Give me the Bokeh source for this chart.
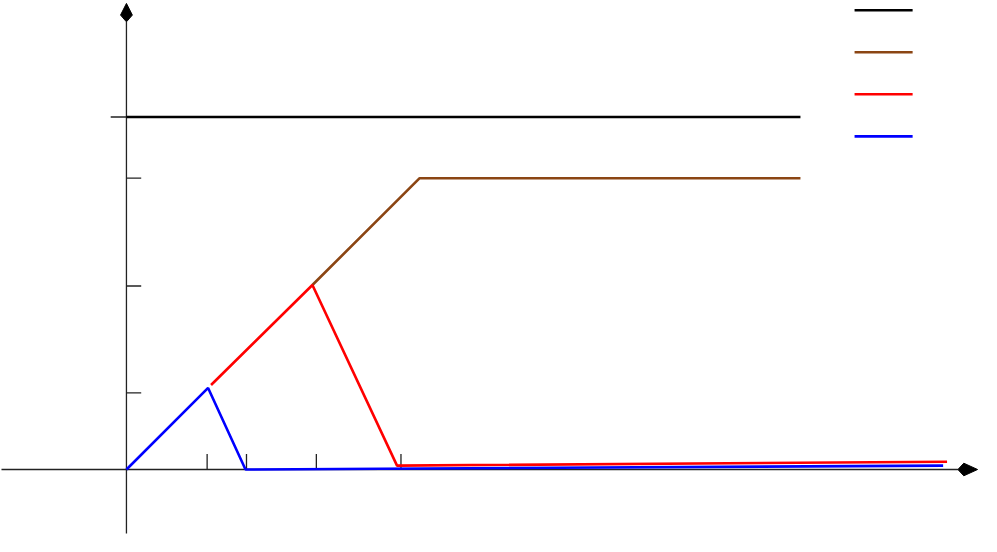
from bokeh.plotting import figure
from bokeh.embed import file_html
from bokeh.resources import INLINE
from bokeh.models import Range1d

# ---- data (origin of the axes = 0,0) ----
black_x = [0, 685]
black_y = [363, 363]

brown_x = [189, 298, 685]
brown_y = [190, 300, 300]

red_x = [86, 189, 275, 834]
red_y = [87, 190, 4, 8]

blue_x = [0, 83, 121, 830]
blue_y = [0, 84, 0, 4]

series_colors = ["#000000", "#8B4513", "#FF0000", "#0000FF"]

x_ticks = [82, 122, 193, 279]
y_ticks_right = [79, 189, 300]
y_ticks_left = [363]

x_axis_extent = [-127, 845]
y_axis_extent = [-66, 461]

# ---- figure ----
W, H = 981, 536
p = figure(width=W, height=H, output_backend="svg", toolbar_location=None,
           x_range=Range1d(-128, 869), y_range=Range1d(-69, 483),
           min_border=0, min_border_left=0, min_border_right=0,
           min_border_top=0, min_border_bottom=0)
p.axis.visible = False
p.grid.visible = False
p.outline_line_color = None
p.background_fill_color = "white"
p.border_fill_color = "white"

axis_color = "#222222"
tick_len = 16

# axes lines
p.line(x_axis_extent, [0, 0], line_color=axis_color, line_width=1.3)
p.line([0, 0], y_axis_extent, line_color=axis_color, line_width=1.3)

# arrow heads (kite shaped)
xe = x_axis_extent[1]
p.patch([xe, xe + 6, xe + 20, xe + 6], [0, 6.5, 0, -6.5], fill_color="black", line_color="black")
ye = y_axis_extent[1]
p.patch([0, 6, 0, -6], [ye, ye + 7, ye + 19, ye + 7], fill_color="black", line_color="black")

# ticks
p.segment(x0=x_ticks, y0=[0] * len(x_ticks), x1=x_ticks, y1=[tick_len] * len(x_ticks),
          line_color=axis_color, line_width=1.3)
p.segment(x0=[0] * len(y_ticks_right), y0=y_ticks_right, x1=[15] * len(y_ticks_right),
          y1=y_ticks_right, line_color=axis_color, line_width=1.3)
p.segment(x0=[-16] * len(y_ticks_left), y0=y_ticks_left, x1=[0] * len(y_ticks_left),
          y1=y_ticks_left, line_color=axis_color, line_width=1.3)

# series
lw = 2.6
p.line(black_x, black_y, line_color=series_colors[0], line_width=lw)
p.line(brown_x, brown_y, line_color=series_colors[1], line_width=lw)
p.line(red_x, red_y, line_color=series_colors[2], line_width=lw)
p.line(blue_x, blue_y, line_color=series_colors[3], line_width=lw)

# legend swatches (no labels)
leg_x0, leg_x1 = 740, 799
leg_top, leg_step = 473, 43.3
leg_y = [leg_top - i * leg_step for i in range(len(series_colors))]
p.segment(x0=[leg_x0] * 4, y0=leg_y, x1=[leg_x1] * 4, y1=leg_y,
          line_color=series_colors, line_width=lw)

open("out.html", "w").write(file_html(p, INLINE))
